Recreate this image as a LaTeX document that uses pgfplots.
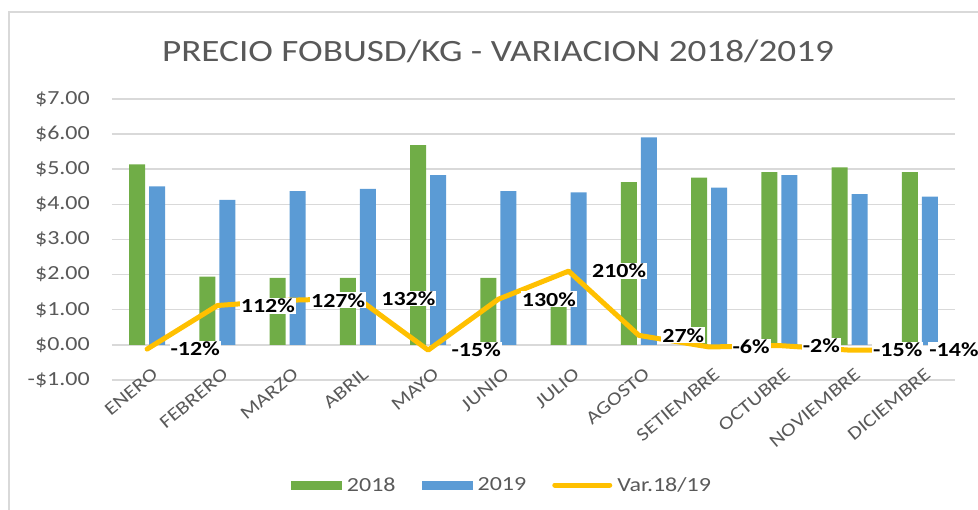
\documentclass[border=0pt]{standalone}
\usepackage{fontspec}
\setmainfont{Carlito}[FakeStretch=1.2]
\usepackage{pgfplots}
\pgfplotsset{compat=1.18}
\usepackage{pgfplotstable}
\definecolor{cgreen}{HTML}{70AD47}
\definecolor{cblue}{HTML}{5B9BD5}
\definecolor{cyellow}{HTML}{FFC000}
\definecolor{cgrid}{HTML}{D9D9D9}
\definecolor{ctext}{HTML}{595959}

\pgfplotstableread{
x y2018 y2019
0 5.14 4.51
1 1.94 4.13
2 1.91 4.38
3 1.91 4.44
4 5.69 4.83
5 1.91 4.38
6 1.40 4.34
7 4.63 5.91
8 4.76 4.48
9 4.92 4.83
10 5.05 4.29
11 4.92 4.22
}\prices

\pgfplotstableread{
x var pct dx
0 -0.12 -12 20
1 1.12 112 20
2 1.27 127 20
3 1.32 132 20
4 -0.15 -15 20
5 1.30 130 20
6 2.10 210 20
7 0.27 27 20
8 -0.06 -6 20
9 -0.02 -2 20
10 -0.15 -15 20
11 -0.14 -14 6
}\variation

\begin{document}
\begin{tikzpicture}
\useasboundingbox (0pt,0pt) rectangle (978pt,510pt);
\draw[cgrid, line width=1.5pt] (9pt,0pt) -- (9pt,498pt) -- (978pt,498pt);
\node[anchor=base, text=ctext, font=\fontsize{31}{36}\selectfont] at (498pt,448pt) {PRECIO FOBUSD/KG - VARIACION 2018/2019};
\begin{axis}[
  at={(112pt,130pt)}, anchor=south west,
  scale only axis, width=843pt, height=281pt,
  xmin=-0.5, xmax=11.5, ymin=-1, ymax=7,
  axis line style={draw=none},
  major tick length=0pt,
  ymajorgrids, grid style={cgrid, line width=1.5pt},
  xtick={0,1,...,11},
  xticklabels={ENERO,FEBRERO,MARZO,ABRIL,MAYO,JUNIO,JULIO,AGOSTO,SETIEMBRE,OCTUBRE,NOVIEMBRE,DICIEMBRE},
  ytick={-1,0,1,2,3,4,5,6,7},
  yticklabels={-\$1.00,\$0.00,\$1.00,\$2.00,\$3.00,\$4.00,\$5.00,\$6.00,\$7.00},
  /pgf/number format/assume math mode=true,
  x tick label style={font=\fontsize{18.5}{22}\selectfont, text=ctext, inner sep=0pt, anchor=north east, xshift=4pt, yshift=13pt, rotate=40},
  y tick label style={font=\fontsize{20}{24}\selectfont, text=ctext, inner sep=0pt, xshift=-22pt},
  legend style={at={(0.4626,-0.3737)}, anchor=center, draw=none, fill=none,
    font=\fontsize{20}{24}\selectfont, text=ctext,
    /tikz/every even column/.append style={column sep=24pt},
    /tikz/every odd column/.append style={column sep=3pt}},
  legend columns=3, legend cell align=left,
  clip=false,
]
\addplot[ybar, bar width=16pt, bar shift=-10pt, fill=cgreen, draw=none,
  legend image code/.code={\fill[cgreen] (0pt,-4.5pt) rectangle (51pt,4.5pt);}]
  table[x=x,y=y2018]{\prices};
\addlegendentry{2018}
\addplot[ybar, bar width=16pt, bar shift=10pt, fill=cblue, draw=none,
  legend image code/.code={\fill[cblue] (0pt,-4.5pt) rectangle (51pt,4.5pt);}]
  table[x=x,y=y2019]{\prices};
\addlegendentry{2019}
\addplot[cyellow, line width=5pt, line join=round, line cap=round, mark=none,
  legend image code/.code={\draw[cyellow, line width=5pt, line cap=round] (0pt,0pt) -- (55pt,0pt);},
  point meta=explicit,
  visualization depends on={\thisrow{dx}\as\dx},
  nodes near coords={\pgfmathprintnumber[fixed,precision=0]{\pgfplotspointmeta}\%},
  every node near coord/.append style={anchor=west, xshift=\dx pt,
    font=\fontsize{20}{24}\selectfont\bfseries, text=black, fill=white, inner sep=1pt}]
  table[x=x,y=var,meta=pct]{\variation};
\addlegendentry{Var.18/19}
\end{axis}
\end{tikzpicture}
\end{document}
